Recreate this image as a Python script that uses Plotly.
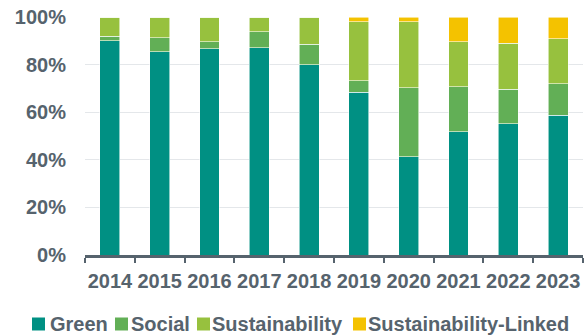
import plotly.graph_objects as go

years = ["2014", "2015", "2016", "2017", "2018", "2019", "2020", "2021", "2022", "2023"]
green = [90.0, 85.5, 86.7, 87.0, 80.0, 68.4, 41.3, 51.8, 55.2, 58.8]
social = [2.0, 5.8, 2.9, 6.8, 8.5, 4.8, 29.0, 18.8, 14.5, 13.2]
sustainability = [8.0, 8.7, 10.4, 6.2, 11.5, 24.8, 27.7, 18.9, 19.2, 18.9]
sustainability_linked = [0.0, 0.0, 0.0, 0.0, 0.0, 2.0, 2.0, 10.5, 11.1, 9.1]
ytick_vals = [0, 20, 40, 60, 80, 100]
ytick_text = ["0%", "20%", "40%", "60%", "80%", "100%"]

W, H = 587, 335
ML, MR, MT, MB = 85, 4, 17, 80
PW, PH = W - ML - MR, H - MT - MB
TXT = "#56636D"
FONT = dict(family="Liberation Sans, Arial, sans-serif", size=20, color=TXT, weight="bold")

# (name, values, colour, legend swatch left px, legend text left px)
series = [
    ("Green", green, "#009083", 32, 50),
    ("Social", social, "#62AF56", 115, 131),
    ("Sustainability", sustainability, "#97C13E", 197, 212),
    ("Sustainability-Linked", sustainability_linked, "#F4C200", 353, 368),
]


def px_x(px):
    return (px - ML) / PW


def px_y(py):
    return (H - MB - py) / PH


fig = go.Figure()
for name, vals, color, _, _ in series:
    fig.add_trace(go.Bar(
        x=years, y=vals, name=name, showlegend=False,
        marker=dict(color=color, line=dict(color="rgba(255,255,255,0.7)", width=0.8)),
    ))

# legend row: swatches + labels
LEG_Y = 324
for name, vals, color, sx, tx in series:
    fig.add_shape(
        type="rect", xref="paper", yref="paper",
        x0=px_x(sx), x1=px_x(sx + 13), y0=px_y(LEG_Y + 6.5), y1=px_y(LEG_Y - 6.5),
        fillcolor=color, line=dict(width=0),
    )
    fig.add_annotation(
        text=name, xref="paper", yref="paper", x=px_x(tx - 1), y=px_y(LEG_Y),
        xanchor="left", yanchor="middle", showarrow=False, font=FONT, borderpad=0,
    )

fig.update_layout(
    width=W, height=H,
    margin=dict(l=ML, r=MR, t=MT, b=MB, autoexpand=False),
    barmode="stack", bargap=0.6,
    plot_bgcolor="white", paper_bgcolor="white",
    font=FONT,
    showlegend=False,
)
fig.update_xaxes(
    type="category", tickson="boundaries", ticks="outside", ticklen=5, tickwidth=2,
    tickcolor=TXT, showline=True, linecolor=TXT, linewidth=2.5, showgrid=False,
    tickfont=FONT, ticklabelstandoff=6, tickangle=0, automargin=False,
)
fig.update_yaxes(
    range=[0, 100], tickvals=ytick_vals, ticktext=ytick_text,
    showgrid=True, gridcolor="#E4E7EA", gridwidth=1, zeroline=False,
    showline=False, ticks="", tickfont=FONT, ticklabelstandoff=18, automargin=False,
)

fig.write_html("out.html")
